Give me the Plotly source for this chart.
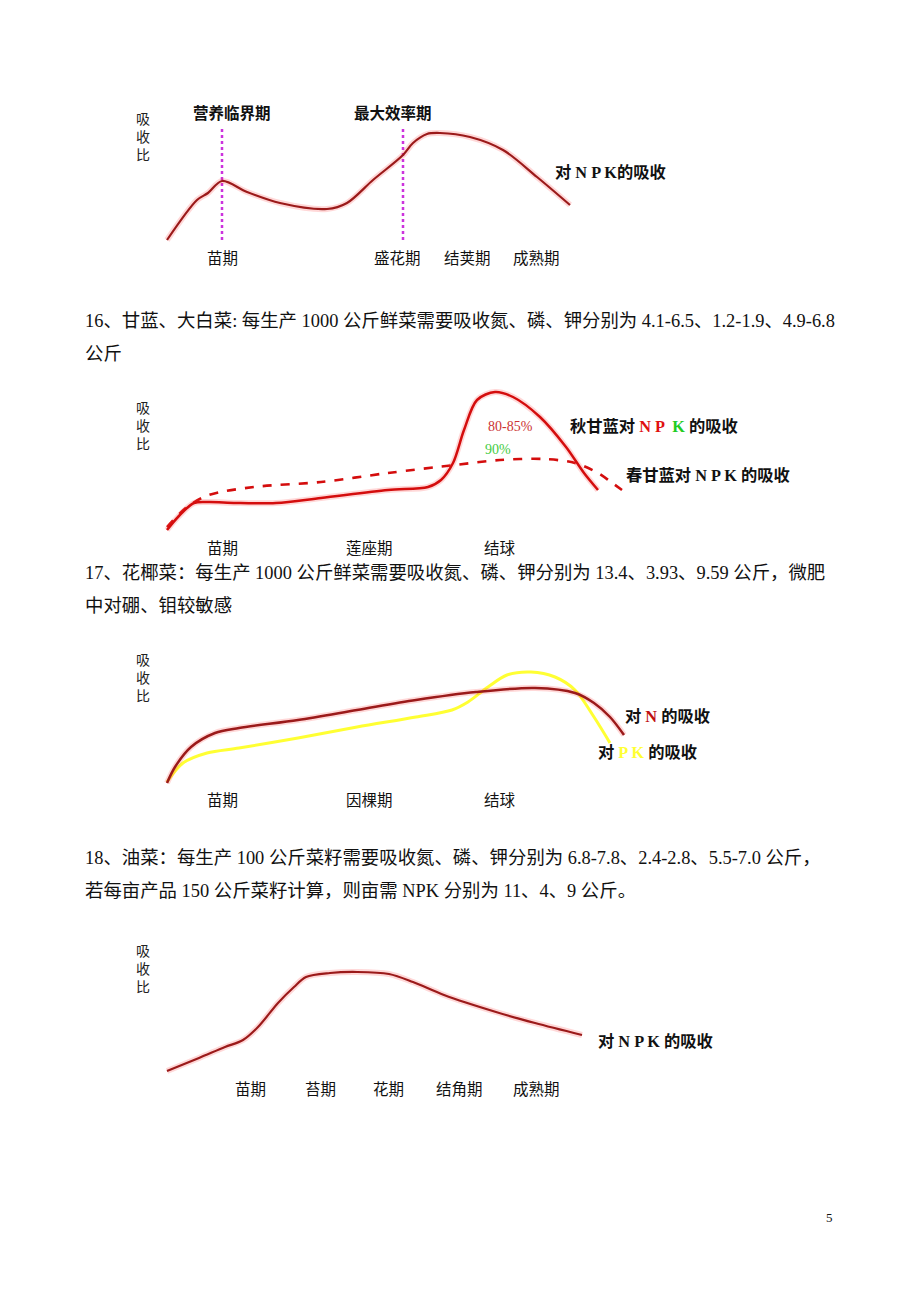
import plotly.graph_objects as go

W, H = 920, 1302

# ---------------- data (stage progress x, absorption ratio y) ----------------
# Chart 1 (对NPK的吸收)
c1_x = [7, 37, 48, 62, 87, 120, 167, 187, 213, 243, 253, 267, 280, 310, 343, 377, 410]
c1_y = [10, 50, 57, 69, 58, 47, 41, 47, 70, 95, 107, 116, 117, 113, 100, 73, 45]
c1_marks_x = [62, 243]          # 营养临界期, 最大效率期
c1_marks_top = [124, 123]

# Chart 2: cabbage
c2_autumn_x = [7, 18, 34, 49, 76, 116, 161, 228, 268, 281, 293, 304, 317, 335, 353, 380, 406, 424, 438]
c2_autumn_y = [10, 23, 37, 38, 37, 37, 42, 50, 53, 60, 77, 110, 140, 148, 143, 123, 93, 67, 50]
c2_spring_x = [7, 27, 49, 94, 161, 228, 295, 340, 384, 415, 438, 451, 462]
c2_spring_y = [13, 33, 45, 53, 58, 67, 75, 80, 81, 77, 67, 58, 50]

# Chart 3: cauliflower
c3_n_x = [7, 15, 31, 55, 79, 138, 197, 256, 316, 375, 415, 434, 450, 464]
c3_n_y = [7, 23, 43, 57, 62, 70, 80, 90, 98, 102, 97, 87, 73, 55]
c3_pk_x = [7, 23, 47, 79, 138, 197, 256, 292, 308, 328, 347, 371, 395, 415, 434, 450]
c3_pk_y = [8, 27, 37, 42, 52, 63, 73, 80, 88, 103, 115, 118, 113, 100, 73, 47]

# Chart 4: rapeseed
c4_x = [7, 39, 65, 83, 98, 118, 134, 146, 170, 197, 229, 253, 284, 336, 375, 422]
c4_y = [9, 22, 33, 40, 53, 77, 93, 103, 107, 108, 106, 98, 85, 68, 57, 45]

# ---------------- helpers ----------------
def px(x):
    return x / W

def py(y):
    return 1 - y / H

fig = go.Figure()

# chart boxes in page pixels: (x0, x1, ytop, ybottom)
boxes = {
    1: (160, 580, 120, 250),
    2: (160, 640, 380, 540),
    3: (160, 640, 650, 790),
    4: (160, 600, 960, 1080),
}
layout_axes = {}
for i, (x0, x1, yt, yb) in boxes.items():
    sx = "" if i == 1 else str(i)
    layout_axes["xaxis" + sx] = dict(domain=[px(x0), px(x1)], range=[0, x1 - x0],
                                     visible=False, fixedrange=True, anchor="y" + sx)
    layout_axes["yaxis" + sx] = dict(domain=[py(yb), py(yt)], range=[0, yb - yt],
                                     visible=False, fixedrange=True, anchor="x" + sx)

RED_DARK = "#9b1a1a"
RED = "#d40d0d"
HALO = "rgba(255,60,60,0.2)"
YELLOW = "#ffff33"


def curve(x, y, ax, color, dash="solid", width=2.2, halo=True):
    if halo:
        fig.add_trace(go.Scatter(x=x, y=y, xaxis="x" + ax, yaxis="y" + ax, mode="lines",
                                 line=dict(color=HALO, width=6, shape="spline", smoothing=0.9),
                                 hoverinfo="skip", showlegend=False))
    fig.add_trace(go.Scatter(x=x, y=y, xaxis="x" + ax, yaxis="y" + ax, mode="lines",
                             line=dict(color=color, width=width, shape="spline", smoothing=0.9, dash=dash),
                             hoverinfo="skip", showlegend=False))


# chart 1
for mx, mt in zip(c1_marks_x, c1_marks_top):
    fig.add_trace(go.Scatter(x=[mx, mx], y=[10, mt], xaxis="x", yaxis="y", mode="lines",
                             line=dict(color="#cc33dd", width=2.5, dash="dot"),
                             hoverinfo="skip", showlegend=False))
curve(c1_x, c1_y, "", RED_DARK)

# chart 2
curve(c2_spring_x, c2_spring_y, "2", RED, dash="dash", width=2.6, halo=False)
curve(c2_autumn_x, c2_autumn_y, "2", RED, width=2.5)

# chart 3
curve(c3_pk_x, c3_pk_y, "3", YELLOW, width=3, halo=False)
curve(c3_n_x, c3_n_y, "3", RED_DARK, width=2.5)

# chart 4
curve(c4_x, c4_y, "4", RED_DARK, width=2.2)

# ---------------- text ----------------
SERIF = "Liberation Serif, Noto Sans CJK SC, serif"
annots = []


def text(x, y, s, size=15.5, anchor="left", color="#111", family=SERIF):
    annots.append(dict(x=px(x), y=py(y), xref="paper", yref="paper", text=s, showarrow=False,
                       xanchor=anchor, yanchor="middle", align="left",
                       font=dict(size=size, color=color, family=family)))


def ylabel(x, ymid):
    text(x, ymid, "吸<br>收<br>比", size=14, anchor="center", color="#222")


BODY = 18.4
LBL = 16.3

# chart 1 texts
ylabel(143, 138)
text(232, 113, "<b>营养临界期</b>", size=15.5, anchor="center")
text(393, 113, "<b>最大效率期</b>", size=15.5, anchor="center")
text(222, 258, "苗期", anchor="center")
text(397, 258, "盛花期", anchor="center")
text(467, 258, "结荚期", anchor="center")
text(536, 258, "成熟期", anchor="center")
text(553, 173, "<b>对 N P K的吸收</b>", size=LBL)

# paragraph 16
text(83, 321, "16、甘蓝、大白菜: 每生产 1000 公斤鲜菜需要吸收氮、磷、钾分别为 4.1-6.5、1.2-1.9、4.9-6.8", size=BODY)
text(83, 354, "公斤", size=BODY)

# chart 2 texts
ylabel(143, 426)
text(510, 427, "80-85%", size=14, anchor="center", color="#cc3333")
text(498, 450, "90%", size=14, anchor="center", color="#44cc44")
text(568, 427, "<b>秋甘蓝对 <span style='color:#e01010'>N P</span>  <span style='color:#22cc22'>K</span> 的吸收</b>", size=LBL)
text(624, 475, "<b>春甘蓝对 N P K 的吸收</b>", size=LBL)
text(222, 548, "苗期", anchor="center")
text(369, 548, "莲座期", anchor="center")
text(500, 548, "结球", anchor="center")

# paragraph 17
text(83, 573, "17、花椰菜：每生产 1000 公斤鲜菜需要吸收氮、磷、钾分别为 13.4、3.93、9.59 公斤，微肥", size=BODY)
text(83, 606, "中对硼、钼较敏感", size=BODY)

# chart 3 texts
ylabel(143, 678)
text(623, 716, "<b>对 <span style='color:#c01010'>N</span> 的吸收</b>", size=LBL)
text(596, 752, "<b>对 <span style='color:#ffff33'>P K</span> 的吸收</b>", size=LBL)
text(222, 800, "苗期", anchor="center")
text(369, 800, "因棵期", anchor="center")
text(500, 800, "结球", anchor="center")

# paragraph 18
text(83, 858, "18、油菜：每生产 100 公斤菜籽需要吸收氮、磷、钾分别为 6.8-7.8、2.4-2.8、5.5-7.0 公斤，", size=BODY)
text(83, 891, "若每亩产品 150 公斤菜籽计算，则亩需 NPK 分别为 11、4、9 公斤。", size=BODY)

# chart 4 texts
ylabel(143, 969)
text(596, 1041, "<b>对 N P K 的吸收</b>", size=LBL)
text(250, 1089, "苗期", anchor="center")
text(320, 1089, "苔期", anchor="center")
text(388, 1089, "花期", anchor="center")
text(459, 1089, "结角期", anchor="center")
text(536, 1089, "成熟期", anchor="center")

# page number
text(829, 1217, "5", size=13, anchor="center")

fig.update_layout(
    width=W, height=H,
    margin=dict(l=0, r=0, t=0, b=0),
    paper_bgcolor="white", plot_bgcolor="white",
    showlegend=False,
    annotations=annots,
    **layout_axes,
)

fig.write_html("out.html", config={"displayModeBar": False})
